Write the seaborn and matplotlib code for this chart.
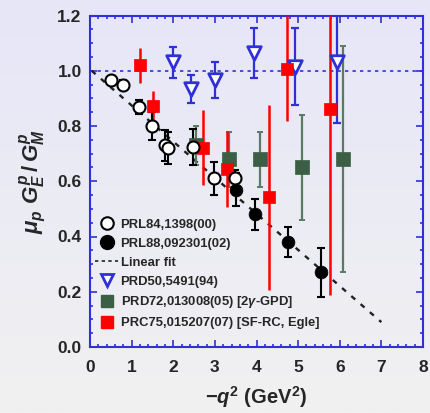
import numpy as np
import pandas as pd
import matplotlib
matplotlib.use("Agg")
import matplotlib.pyplot as plt
import seaborn as sns
from matplotlib.lines import Line2D

# PRL84,1398(00) -- open circles
q2_prl84 = [0.50, 0.79, 1.18, 1.48, 1.80, 1.88, 2.47, 2.97, 3.48]
r_prl84 = [0.965, 0.95, 0.87, 0.80, 0.73, 0.72, 0.725, 0.61, 0.61]
e_prl84 = [0.015, 0.015, 0.025, 0.05, 0.057, 0.057, 0.065, 0.06, 0.03]

# PRL88,092301(02) -- filled circles
q2_prl88 = [3.50, 3.97, 4.75, 5.54]
r_prl88 = [0.57, 0.48, 0.38, 0.27]
e_prl88 = [0.06, 0.055, 0.055, 0.09]

# PRD50,5491(94) -- open down triangles
q2_prd50 = [2.00, 2.43, 3.00, 3.93, 4.93, 5.93]
r_prd50 = [1.03, 0.935, 0.965, 1.065, 1.015, 1.03]
e_prd50 = [0.055, 0.05, 0.065, 0.09, 0.14, 0.22]

# PRD72,013008(05) [2gamma-GPD] -- green squares
q2_prd72 = [2.55, 3.33, 4.09, 5.09, 6.09]
r_prd72 = [0.73, 0.68, 0.68, 0.65, 0.68]
e_prd72 = [0.07, 0.10, 0.10, 0.19, 0.41]

# PRC75,015207(07) [SF-RC, Egle] -- red squares
q2_prc75 = [1.20, 1.51, 2.72, 3.28, 4.31, 4.74, 5.77]
r_prc75 = [1.02, 0.873, 0.722, 0.645, 0.542, 1.007, 0.863]
e_prc75 = [0.063, 0.055, 0.135, 0.137, 0.335, 0.19, 0.675]

# Linear fit end points
fit_q2 = [0.04, 7.0]
fit_r = [1.0, 0.09]

x_ticks = [0, 1, 2, 3, 4, 5, 6, 7, 8]
y_ticks = [0.0, 0.2, 0.4, 0.6, 0.8, 1.0, 1.2]

BLUE = "#3030d8"
GREEN = "#3b5e44"
GREEN_BAR = "#5a7a62"
RED = "#ff0000"

sns.set_style("ticks")
plt.rcParams["font.family"] = ["Liberation Sans", "DejaVu Sans"]
plt.rcParams["font.weight"] = "bold"
plt.rcParams["mathtext.fontset"] = "custom"
plt.rcParams["mathtext.rm"] = "Liberation Sans:bold"
plt.rcParams["mathtext.it"] = "Liberation Sans:bold:italic"
plt.rcParams["mathtext.bf"] = "Liberation Sans:bold"

fig = plt.figure(figsize=(4.30, 4.13), dpi=100)

# soft lavender-to-grey backdrop
bg = fig.add_axes([0, 0, 1, 1], zorder=-10)
grad = np.linspace(0, 1, 256).reshape(-1, 1)
top_c = np.array([230, 230, 248]) / 255
bot_c = np.array([241, 241, 241]) / 255
img = top_c[None, None, :] * (1 - grad[:, :, None]) + bot_c[None, None, :] * grad[:, :, None]
bg.imshow(img, aspect="auto", extent=[0, 1, 0, 1])
bg.set_axis_off()

ax = fig.add_axes([90 / 430, (413 - 347) / 413, 333 / 430, 331.5 / 413])
ax.set_facecolor("none")

df84 = pd.DataFrame({"q2": q2_prl84, "r": r_prl84})
df88 = pd.DataFrame({"q2": q2_prl88, "r": r_prl88})
df50 = pd.DataFrame({"q2": q2_prd50, "r": r_prd50})
df72 = pd.DataFrame({"q2": q2_prd72, "r": r_prd72})
df75 = pd.DataFrame({"q2": q2_prc75, "r": r_prc75})

# reference line at unity
ax.axhline(1.0, color=BLUE, lw=1.2, ls=(0, (2, 2.5)), zorder=1)

# linear fit
sns.lineplot(x=fit_q2, y=fit_r, ax=ax, color="#222222", lw=1.7,
             linestyle=(0, (2.2, 3.0)), zorder=2)

# error bars
ax.errorbar(q2_prd72, r_prd72, yerr=e_prd72, fmt="none", ecolor=GREEN_BAR,
            elinewidth=1.6, capsize=2.2, capthick=1.4, zorder=3)
ax.errorbar(q2_prd50, r_prd50, yerr=e_prd50, fmt="none", ecolor=BLUE,
            elinewidth=1.6, capsize=3, capthick=1.6, zorder=3)
ax.errorbar(q2_prc75, r_prc75, yerr=e_prc75, fmt="none", ecolor=RED,
            elinewidth=1.8, capsize=0, zorder=4)
ax.errorbar(q2_prl84, r_prl84, yerr=e_prl84, fmt="none", ecolor="black",
            elinewidth=1.5, capsize=2.6, capthick=1.5, zorder=5)
ax.errorbar(q2_prl88, r_prl88, yerr=e_prl88, fmt="none", ecolor="black",
            elinewidth=1.5, capsize=2.6, capthick=1.5, zorder=5)

# markers
sns.scatterplot(data=df72, x="q2", y="r", ax=ax, marker="s", s=95,
                color=GREEN, edgecolor=GREEN, linewidth=0.5, zorder=6)
sns.scatterplot(data=df50, x="q2", y="r", ax=ax, marker="v", s=95,
                facecolor="white", edgecolor=BLUE, linewidth=2.0, zorder=6)
sns.scatterplot(data=df75, x="q2", y="r", ax=ax, marker="s", s=85,
                color=RED, edgecolor=RED, linewidth=0.5, zorder=7)
sns.scatterplot(data=df84, x="q2", y="r", ax=ax, marker="o", s=75,
                facecolor="white", edgecolor="black", linewidth=1.5, zorder=8)
sns.scatterplot(data=df88, x="q2", y="r", ax=ax, marker="o", s=85,
                color="black", edgecolor="black", linewidth=0.5, zorder=8)

ax.set_xlim(0, 8)
ax.set_ylim(0, 1.2)
ax.set_xticks(x_ticks)
ax.set_yticks(y_ticks)
ax.set_xticklabels([str(v) for v in x_ticks])
ax.set_yticklabels([f"{v:.1f}" for v in y_ticks])
ax.xaxis.set_minor_locator(matplotlib.ticker.MultipleLocator(0.2))
ax.yaxis.set_minor_locator(matplotlib.ticker.MultipleLocator(0.05))
ax.tick_params(which="both", direction="in", top=True, right=True,
               color=BLUE, width=1.2)
ax.tick_params(which="major", length=5, labelsize=12.5)
ax.tick_params(which="minor", length=2.5)
ax.tick_params(axis="x", which="major", pad=9)
ax.tick_params(axis="y", which="major", pad=6)
for lab in ax.get_xticklabels() + ax.get_yticklabels():
    lab.set_fontweight("bold")
for sp in ax.spines.values():
    sp.set_color(BLUE)
    sp.set_linewidth(1.5)
    sp.set_visible(True)

ax.set_xlabel(r"$-q^2$ (GeV$^2$)", fontsize=14.5, fontweight="bold", labelpad=7)
ax.set_ylabel(r"$\mu_p\ G_E^p\,/\,G_M^p$", fontsize=16, fontweight="bold", labelpad=7)

handles = [
    Line2D([], [], marker="o", ls="none", mfc="white", mec="black", mew=1.5, ms=9),
    Line2D([], [], marker="o", ls="none", mfc="black", mec="black", ms=10),
    Line2D([], [], color="#222222", lw=1.2, ls=(0, (2, 2))),
    Line2D([], [], marker="v", ls="none", mfc="white", mec=BLUE, mew=2.0, ms=9),
    Line2D([], [], marker="s", ls="none", mfc=GREEN, mec=GREEN, ms=9),
    Line2D([], [], marker="s", ls="none", mfc=RED, mec=RED, ms=9),
]
labels = [
    "PRL84,1398(00)",
    "PRL88,092301(02)",
    "Linear fit",
    "PRD50,5491(94)",
    r"PRD72,013008(05) [2$\gamma$-GPD]",
    "PRC75,015207(07) [SF-RC, Egle]",
]
ax.legend(handles, labels, loc="lower left", bbox_to_anchor=(-0.02, 0.018),
          frameon=False, handlelength=1.75, handletextpad=0.2,
          labelspacing=0.52, borderpad=0.4,
          prop={"weight": "bold", "size": 9.4})

fig.savefig("out.png", dpi=100)
